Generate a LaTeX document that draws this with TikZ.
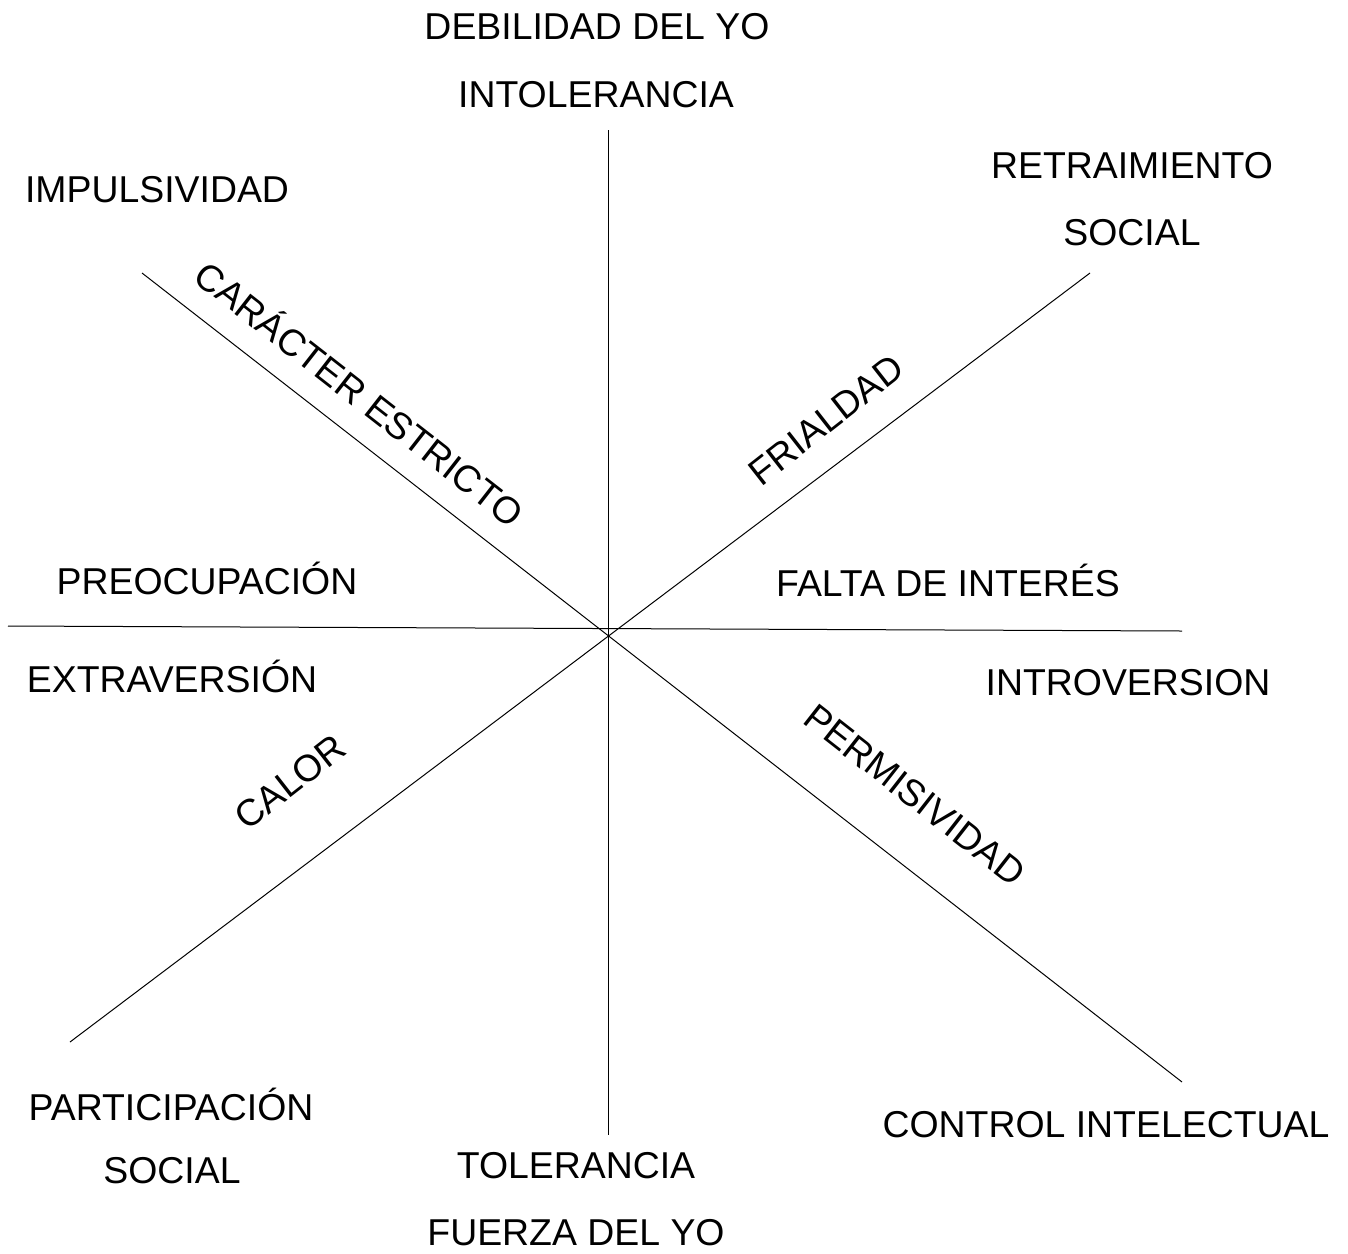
\documentclass[tikz,border=0pt]{standalone}
\usepackage{fontspec}
\setmainfont{Liberation Sans}
\begin{document}
\begin{tikzpicture}[x=1pt,y=-1pt,
  lbl/.style={font=\fontsize{37.4}{42}\selectfont, inner sep=0pt},
  axis/.style={draw=black, line width=1pt}]
\useasboundingbox (0,0) rectangle (1348,1253);
\coordinate (vt) at (608,130);
\coordinate (vb) at (608,1135);
\coordinate (hl) at (8,626);
\coordinate (hr) at (1182,631);
\coordinate (d1a) at (142,273);
\coordinate (d1b) at (1182,1082);
\coordinate (d2a) at (1090,273);
\coordinate (d2b) at (70,1042);
\draw[axis] (vt) -- (vb);
\draw[axis] (hl) -- (hr);
\draw[axis] (d1a) -- (d1b);
\draw[axis] (d2a) -- (d2b);
\node[lbl] (t1) at (597,27) {DEBILIDAD DEL YO};
\node[lbl] (t2) at (596,95) {INTOLERANCIA};
\node[lbl] (t3) at (157,190) {IMPULSIVIDAD};
\node[lbl] (t4) at (1132,166) {RETRAIMIENTO};
\node[lbl] (t5) at (1132,233) {SOCIAL};
\node[lbl, rotate=-38] (t6) at (361,392) {CARÁCTER ESTRICTO};
\node[lbl, rotate=38] (t7) at (826,420) {FRIALDAD};
\node[lbl] (t8) at (207,578) {PREOCUPACIÓN};
\node[lbl] (t9) at (948,580) {FALTA DE INTERÉS};
\node[lbl] (t10) at (172,676) {EXTRAVERSIÓN};
\node[lbl] (t11) at (1128,683) {INTROVERSION};
\node[lbl, rotate=38] (t12) at (290,782) {CALOR};
\node[lbl, rotate=-38] (t13) at (915,795) {PERMISIVIDAD};
\node[lbl] (t14) at (171,1104) {PARTICIPACIÓN};
\node[lbl] (t15) at (172,1171) {SOCIAL};
\node[lbl] (t16) at (576,1166) {TOLERANCIA};
\node[lbl] (t17) at (576,1233) {FUERZA DEL YO};
\node[lbl] (t18) at (1106,1125) {CONTROL INTELECTUAL};
\end{tikzpicture}
\end{document}
